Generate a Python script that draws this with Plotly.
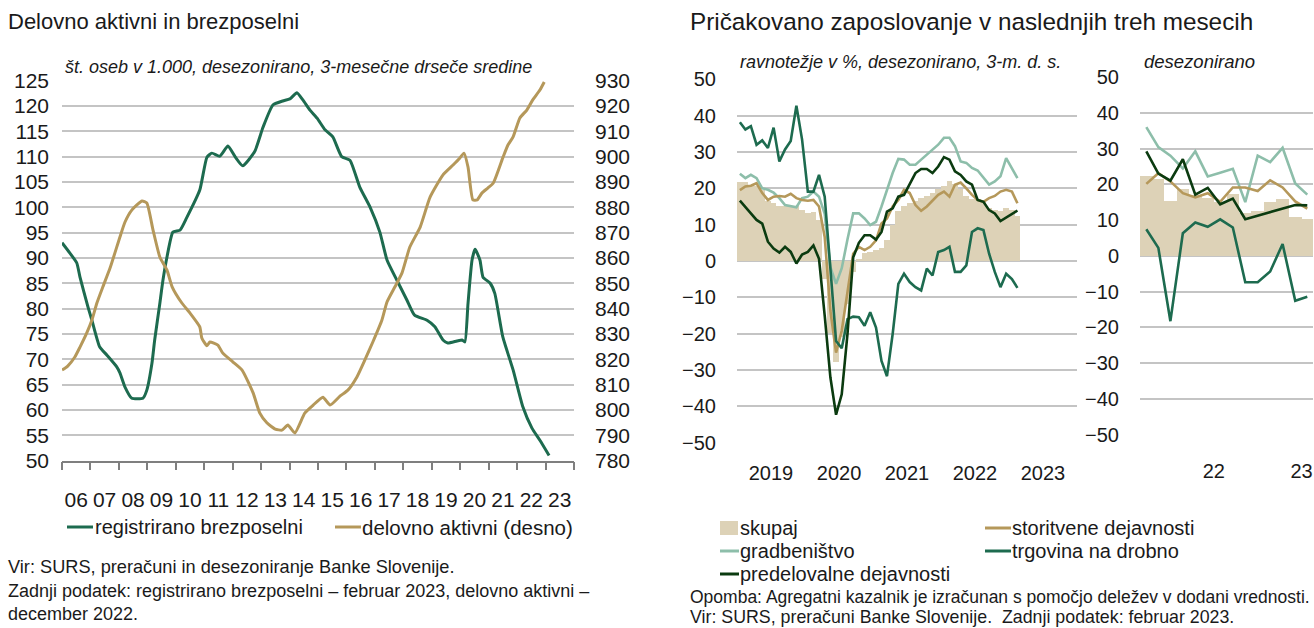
import plotly.graph_objects as go
import calendar

W, H = 1314, 628
FONT = "Liberation Sans, Arial, sans-serif"
TXT = "#1a1a1a"
C_UNEMP = "#1d6b4f"
C_GOLD = "#b5985a"
C_LIGHT = "#8dbeaa"
C_DARK = "#0b3b10"
C_BAR = "#ddd2b7"
C_GRID = "#c4c4c4"
C_AXIS = "#7f7f7f"

# ---------------- Left chart: registered unemployed (left axis, thousands) ----------------
unemp_dates = [
    "2006-01-01", "2006-04-10", "2006-07-10", "2006-08-20", "2006-12-01", "2007-01-20",
    "2007-05-01", "2007-08-01", "2007-12-05", "2008-01-15", "2008-03-20", "2008-06-15",
    "2008-11-05", "2008-12-25", "2009-03-01", "2009-04-05", "2009-06-10", "2009-07-20",
    "2009-09-10", "2009-11-25", "2010-02-25", "2010-05-20", "2010-11-05", "2011-02-05",
    "2011-04-10", "2011-07-20", "2011-11-01", "2012-02-01", "2012-05-10", "2012-10-10",
    "2013-01-25", "2013-06-01", "2013-10-05", "2014-01-05", "2014-04-05", "2014-06-20",
    "2014-09-20", "2014-12-20", "2015-04-01", "2015-07-10", "2015-11-01", "2016-02-15",
    "2016-06-20", "2016-11-01", "2017-03-05", "2017-06-05", "2017-10-10", "2018-02-15",
    "2018-05-25", "2018-11-01", "2019-02-10", "2019-05-25", "2019-07-25", "2019-11-20",
    "2020-01-25", "2020-03-01", "2020-04-10", "2020-06-01", "2020-07-10", "2020-09-10",
    "2020-10-20", "2021-01-20", "2021-03-20", "2021-07-01", "2021-11-10", "2022-03-15",
    "2022-07-10", "2022-10-20", "2023-02-15",
]
unemp_vals = [
    93, 91, 89, 86.2, 80.3, 77.7,
    72.4, 70.8, 68.5, 67.3, 64.5, 62.3,
    62.3, 63.9, 69.2, 73.8, 81.0, 85.6,
    90.2, 95.1, 95.5, 97.9, 103.4, 109.9,
    110.7, 110.1, 112.1, 110.0, 108.2, 111.0,
    115.8, 120.2, 121.0, 121.4, 122.6, 121.2,
    119.2, 117.6, 115.3, 113.9, 110.0, 109.3,
    104.0, 100.0, 95.1, 89.6, 85.6, 81.7,
    78.7, 77.7, 76.4, 73.8, 73.2, 73.6,
    73.8, 73.4, 81.0, 89.6, 91.7, 89.6,
    86.2, 85.0, 83.0, 74.4, 67.9, 60.6,
    56.4, 54.0, 51.0,
]

# ---------------- Left chart: persons in employment (right axis, thousands) ----------------
lf_dates = [
    "2006-01-01", "2006-03-15", "2006-06-15", "2006-08-20", "2006-11-15", "2007-01-20",
    "2007-03-25", "2007-06-10", "2007-09-10", "2008-01-15", "2008-03-20", "2008-06-15",
    "2008-10-25", "2008-12-25", "2009-03-15", "2009-06-10", "2009-09-10", "2009-11-15",
    "2010-03-20", "2010-07-01", "2010-11-05", "2010-12-01", "2011-02-05", "2011-03-15",
    "2011-06-25", "2011-08-25", "2012-01-05", "2012-05-01", "2012-09-20", "2012-12-15",
    "2013-03-15", "2013-07-01", "2013-09-25", "2013-12-10", "2014-03-10", "2014-07-15",
    "2014-11-01", "2015-03-05", "2015-06-05", "2015-10-10", "2016-01-20", "2016-05-15",
    "2016-08-25", "2016-12-05", "2017-04-01", "2017-06-05", "2017-09-15", "2017-12-15",
    "2018-03-25", "2018-08-05", "2018-12-10", "2019-05-25", "2019-10-01", "2019-12-28",
    "2020-02-18", "2020-04-10", "2020-06-12", "2020-08-05", "2020-10-05", "2020-12-20",
    "2021-03-01", "2021-07-05", "2021-09-05", "2021-11-10", "2022-02-05", "2022-05-05",
    "2022-07-20", "2022-10-20", "2022-12-15",
]
lf_vals = [
    815.7, 817.3, 820.9, 824.8, 830.4, 835.5,
    842.2, 848.6, 856.0, 868.3, 874.2, 878.9,
    882.5, 881.7, 871.0, 860.4, 855.2, 848.6,
    842.2, 838.3, 832.8, 828.4, 825.3, 826.8,
    825.6, 822.5, 818.9, 815.7, 806.7, 798.7,
    794.9, 792.4, 792.0, 794.0, 790.9, 798.7,
    801.9, 805.0, 801.9, 805.4, 807.8, 813.0,
    819.7, 826.8, 835.5, 842.6, 848.6, 854.1,
    864.3, 872.2, 884.0, 892.8, 896.7, 899.5,
    901.4, 895.9, 882.9, 882.9, 885.6, 887.6,
    889.6, 899.9, 904.6, 907.8, 915.3, 918.4,
    922.4, 926.3, 929.5,
]
left_years = list(range(2006, 2024))
left_ticktext = [f"{y % 100:02d}" for y in left_years]

# ---------------- Right chart (a): 3-month moving averages, Jan 2019 - Feb 2023 ----------------
months_a = [f"{2019 + i // 12}-{i % 12 + 1:02d}-01" for i in range(50)]
skupaj_a = [21.6, 21.6, 20.5, 20.5, 19.5, 16.5, 16, 15, 15, 15,
            15, 14, 13, 13.5, 11.3, -5, -20, -28, -21, -12,
            -3, 0.5, 2, 2.5, 3, 3.5, 5.7, 9.9, 13.6, 15,
            15.9, 16.4, 17.3, 17.7, 18.7, 19.6, 20.5, 21.9, 21, 19.6,
            17.7, 17, 17, 16.4, 14.5, 14, 13.6, 14.5, 14, 12.2]
storitve_a = [19.5, 20.5, 20.7, 21.4, 18.7, 16.8, 17.7, 17.9, 17.7, 18.5,
              17.3, 16.8, 16.6, 16.8, 15, 6.6, -13.7, -25.2, -19.2, -8,
              2, 3.9, 3, 3.9, 5.7, 10.3, 11.7, 15, 16.8, 19.6,
              18.7, 15.4, 13.8, 15, 16.6, 18.2, 19.1, 17.7, 21, 21.6,
              20, 18.2, 16.8, 16.3, 17.3, 17.9, 19.1, 19.6, 19.1, 15.9]
gradb_a = [24, 22.8, 23.7, 22.8, 20, 19.6, 18.8, 17.3, 15.4, 15,
           14.8, 17.3, 17.7, 19.1, 17.7, 13, -1.7, -6.3, -2, 6,
           13.1, 13.1, 11.7, 9.9, 10.8, 15, 19.6, 24.2, 28.1, 27.9,
           26.5, 26.5, 27.9, 29.3, 30.7, 32, 33.9, 33.9, 31.6, 27.4,
           27, 25.6, 24.9, 22.8, 21, 21.9, 23.3, 28.3, 25.6, 22.8]
trgov_a = [38.2, 36.2, 37.1, 32, 33.2, 31.1, 36.7, 27.4, 30.7, 33,
           42.7, 33.4, 19.1, 19.1, 23.7, 17.7, -2, -22, -24, -16,
           -15.3, -15.5, -17.8, -14.1, -18.3, -27.5, -31.7, -20.1, -6.3, -3.5,
           -5.8, -7.2, -8.1, -2.1, -4, 2.5, 3, 3.9, -3, -3,
           -1.2, 8, 9, 8.5, 2, -3, -7.2, -3.5, -5, -7.4]
predel_a = [16.6, 15, 13.1, 11.3, 10.3, 5.3, 3.4, 2.3, 3.9, 2.5,
            -0.7, 1.8, 2.5, 4.3, 0.6, -15, -32, -42.3, -36.7, -20,
            1, 5, 7.1, 7.1, 5.9, 8, 13.6, 14.5, 17.7, 18.2,
            21.4, 24.2, 25.3, 25.3, 24.2, 26, 28.6, 27.9, 24.7, 23.7,
            21.9, 21, 16.8, 16.3, 14, 13.1, 11, 12, 12.8, 13.9]
years_a = [2019, 2020, 2021, 2022, 2023]

# ---------------- Right chart (b): seasonally adjusted, Jan 2022 - Feb 2023 ----------------
months_b = [f"{2022 + i // 12}-{i % 12 + 1:02d}-01" for i in range(14)]
skupaj_b = [22.2, 21.5, 15.3, 18.8, 17.1, 16.1, 15, 17.2, 11.9, 12.5, 15, 15.8, 10.8, 10.2]
storitve_b = [20.1, 23.1, 20.8, 17.5, 16.3, 17.5, 15.1, 19.1, 19.1, 18.1, 21.1, 19.1, 15.2, 13.2]
gradb_b = [36, 30.4, 28, 24.4, 29.2, 22.2, 23.2, 24.3, 15, 28, 26.2, 30.2, 20.2, 17.1]
trgov_b = [7.4, 2.2, -18.3, 6.3, 9.3, 8.1, 10.2, 7.9, -7.4, -7.4, -4.4, 3.3, -12.6, -11.5]
predel_b = [29.2, 23, 21, 27, 17.1, 19, 14.4, 16, 10.2, 11.2, 12.2, 13.2, 14.2, 14.1]


def px(x):
    return x / W


def py(y):
    return 1 - y / H


def month_widths(months):
    out = []
    for m in months:
        y, mo = int(m[:4]), int(m[5:7])
        out.append(calendar.monthrange(y, mo)[1] * 86400000)
    return out


fig = go.Figure()

# Left chart traces
fig.add_trace(go.Scatter(x=unemp_dates, y=unemp_vals, mode="lines", xaxis="x", yaxis="y",
                         line=dict(color=C_UNEMP, width=3, shape="spline", smoothing=0.5),
                         showlegend=False, hoverinfo="skip"))
fig.add_trace(go.Scatter(x=lf_dates, y=lf_vals, mode="lines", xaxis="x", yaxis="y2",
                         line=dict(color=C_GOLD, width=3, shape="spline", smoothing=0.5),
                         showlegend=False, hoverinfo="skip"))

# Right chart traces
for months, sk, st, gr, tr, pr, xa, ya in [
    (months_a, skupaj_a, storitve_a, gradb_a, trgov_a, predel_a, "x3", "y3"),
    (months_b, skupaj_b, storitve_b, gradb_b, trgov_b, predel_b, "x5", "y5"),
]:
    fig.add_trace(go.Bar(x=months, y=sk, xaxis=xa, yaxis=ya, width=month_widths(months),
                         xperiod="M1", xperiodalignment="middle",
                         marker=dict(color=C_BAR, line=dict(width=0)), showlegend=False,
                         hoverinfo="skip"))
    for vals, col in [(gr, C_LIGHT), (st, C_GOLD), (tr, C_UNEMP), (pr, C_DARK)]:
        fig.add_trace(go.Scatter(x=months, y=vals, xaxis=xa, yaxis=ya, mode="lines",
                                 xperiod="M1", xperiodalignment="middle",
                                 line=dict(color=col, width=2.6), showlegend=False,
                                 hoverinfo="skip"))

tickfont = dict(family=FONT, size=21, color=TXT)
tickfont_r = dict(family=FONT, size=20, color=TXT)

layout = dict(
    width=W, height=H, margin=dict(l=0, r=0, t=0, b=0, pad=0, autoexpand=False),
    paper_bgcolor="white", plot_bgcolor="rgba(0,0,0,0)",
    showlegend=False, bargap=0, barmode="overlay",
    font=dict(family=FONT, color=TXT),
    # ---- left chart
    xaxis=dict(domain=[px(62), px(574)], anchor="y", type="date", automargin=False,
               range=["2006-01-01", "2024-01-01"],
               tickmode="array", tickvals=[f"{y}-07-02" for y in left_years], ticktext=left_ticktext,
               ticks="", showgrid=False, zeroline=False, showline=True, linecolor=C_AXIS, linewidth=1.5,
               tickfont=tickfont, ticklabelstandoff=20,
               minor=dict(tickmode="array", tickvals=[f"{y}-01-01" for y in range(2006, 2025)],
                          ticks="outside", ticklen=8, tickwidth=1.5, tickcolor=C_AXIS, showgrid=False)),
    yaxis=dict(domain=[py(460.5), py(80.7)], anchor="x", range=[50, 125], automargin=False,
               tickmode="array", tickvals=list(range(50, 126, 5)),
               showgrid=True, gridcolor=C_GRID, gridwidth=1.5, zeroline=False, ticks="",
               tickfont=tickfont, ticklabelstandoff=12),
    yaxis2=dict(overlaying="y", side="right", anchor="x", range=[780, 930], automargin=False,
                tickmode="array", tickvals=list(range(780, 931, 10)),
                showgrid=False, zeroline=False, ticks="", tickfont=tickfont, ticklabelstandoff=20),
    # ---- right chart (a)
    xaxis3=dict(domain=[px(737), px(1077)], anchor="y3", type="date", automargin=False,
                range=["2019-01-01", "2024-01-01"],
                tickmode="array", tickvals=[f"{y}-07-02" for y in years_a],
                ticktext=[str(y) for y in years_a],
                ticks="", showgrid=False, zeroline=False, showline=False,
                tickfont=tickfont_r, ticklabelstandoff=16),
    xaxis4=dict(overlaying="x3", anchor="free", position=py(260.8), type="date", automargin=False,
                range=["2019-01-01", "2024-01-01"],
                tickmode="array", tickvals=[f"{y}-01-01" for y in range(2019, 2025)],
                showticklabels=False, ticks="outside", ticklen=6, tickwidth=1.5, tickcolor=C_AXIS,
                showgrid=False, zeroline=False, showline=True, linecolor=C_AXIS, linewidth=1.5),
    yaxis3=dict(domain=[py(442.7), py(79.3)], anchor="x3", range=[-50, 50], automargin=False,
                tickmode="array", tickvals=list(range(-50, 51, 10)),
                showgrid=True, gridcolor=C_GRID, gridwidth=1.5, zeroline=False, ticks="",
                tickfont=tickfont_r, ticklabelstandoff=20),
    # ---- right chart (b)
    xaxis5=dict(domain=[px(1140), px(1313)], anchor="y5", type="date", automargin=False,
                range=["2022-01-01", "2023-03-01"],
                tickmode="array", tickvals=["2022-07-01", "2023-02-01"], ticktext=["22", "23"],
                ticks="", showgrid=False, zeroline=False, showline=False,
                tickfont=tickfont_r, ticklabelstandoff=22),
    xaxis6=dict(overlaying="x5", anchor="free", position=py(256.7), type="date", automargin=False,
                range=["2022-01-01", "2023-03-01"],
                tickmode="array", tickvals=["2022-01-01", "2023-01-01"],
                showticklabels=False, ticks="outside", ticklen=6, tickwidth=1.5, tickcolor=C_AXIS,
                showgrid=False, zeroline=False, showline=True, linecolor=C_AXIS, linewidth=1.5),
    yaxis5=dict(domain=[py(434.5), py(77)], anchor="x5", range=[-50, 50], automargin=False,
                tickmode="array", tickvals=list(range(-50, 51, 10)),
                showgrid=True, gridcolor=C_GRID, gridwidth=1.5, zeroline=False, ticks="",
                tickfont=tickfont_r, ticklabelstandoff=20),
)
fig.update_layout(**layout)

ann = []


def text(x, y, s, size, italic=False, anchor="left"):
    if italic:
        s = f"<i>{s}</i>"
    ann.append(dict(x=px(x), y=py(y), xref="paper", yref="paper", text=s, showarrow=False,
                    xanchor=anchor, yanchor="middle", align="left",
                    font=dict(family=FONT, size=size, color=TXT)))


# Left chart texts
text(6, 22, "Delovno aktivni in brezposelni", 22)
text(63, 67, "št. oseb v 1.000, desezonirano, 3-mesečne drseče sredine", 18, italic=True)
text(93, 527, "registrirano brezposelni", 20)
text(360, 527, "delovno aktivni (desno)", 20.5)
text(6, 567, "Vir: SURS, preračuni in desezoniranje Banke Slovenije.", 18.2)
text(6, 591, "Zadnji podatek: registrirano brezposelni – februar 2023, delovno aktivni –", 18)
text(6, 614, "december 2022.", 18)

# Right chart texts
text(688, 22, "Pričakovano zaposlovanje v naslednjih treh mesecih", 24.3)
text(738, 62, "ravnotežje v %, desezonirano, 3-m. d. s.", 18, italic=True)
text(1142, 62, "desezonirano", 18.5, italic=True)
text(738, 528, "skupaj", 20)
text(1010, 528, "storitvene dejavnosti", 20)
text(738, 551, "gradbeništvo", 20)
text(1010, 551, "trgovina na drobno", 20)
text(738, 574, "predelovalne dejavnosti", 20)
text(688, 597, "Opomba: Agregatni kazalnik je izračunan s pomočjo deležev v dodani vrednosti.", 17.5)
text(688, 617, "Vir: SURS, preračuni Banke Slovenije.  Zadnji podatek: februar 2023.", 17.8)

shapes = []


def lsample(x0, x1, y, col, w=3):
    shapes.append(dict(type="line", xref="paper", yref="paper", x0=px(x0), x1=px(x1),
                       y0=py(y), y1=py(y), line=dict(color=col, width=w)))


lsample(67, 93, 527, C_UNEMP)
lsample(335, 361, 527, C_GOLD)
shapes.append(dict(type="rect", xref="paper", yref="paper", x0=px(720), x1=px(738),
                   y0=py(535), y1=py(521), fillcolor=C_BAR, line=dict(width=0)))
lsample(985, 1011, 528, C_GOLD)
lsample(720, 739, 551, C_LIGHT)
lsample(985, 1011, 551, C_UNEMP)
lsample(720, 739, 574, C_DARK)

fig.update_layout(annotations=ann, shapes=shapes)
fig.write_html(
    "out.html",
    config={"displayModeBar": False},
    post_script=(
        "document.documentElement.style.margin='0';"
        "document.body.style.margin='0';"
        "document.documentElement.style.overflow='hidden';"
        "var d=document.getElementById('{plot_id}');"
        "d.style.position='fixed';d.style.top='0px';d.style.left='0px';"
    ),
)
